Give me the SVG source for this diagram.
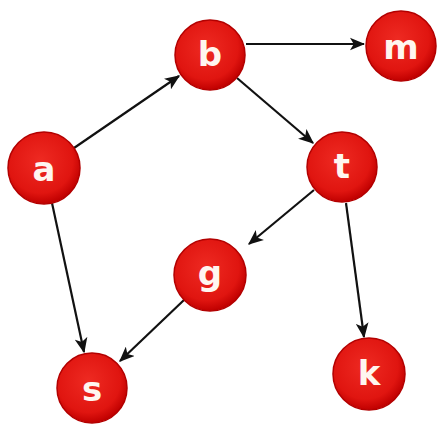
<svg xmlns="http://www.w3.org/2000/svg" width="439" height="426" viewBox="0 0 439 426">
<style>
.node circle{fill:url(#rg);stroke:#b30000;stroke-width:1.5}
.node text{fill:#fff6f0;font-family:"DejaVu Sans",sans-serif;font-weight:bold;font-size:34px;text-anchor:middle;dominant-baseline:central}
.edge{stroke:#111;stroke-width:2.2;fill:none;marker-end:url(#ah)}
</style>
<defs>
<radialGradient id="rg" cx="0.45" cy="0.4" r="0.6">
<stop offset="0" stop-color="#ee2a22"/>
<stop offset="0.75" stop-color="#e01510"/>
<stop offset="1" stop-color="#c00000"/>
</radialGradient>
<marker id="ah" viewBox="0 0 12 10" refX="11" refY="5" markerWidth="7" markerHeight="6" orient="auto" markerUnits="strokeWidth">
<path d="M0,0 L12,5 L0,10 L3,5 Z" fill="#111"/>
</marker>
</defs>
<g id="connectors">
<line class="edge" x1="74" y1="148" x2="179" y2="76"/>
<line class="edge" x1="246" y1="44" x2="364" y2="44"/>
<line class="edge" x1="237" y1="78" x2="313" y2="143"/>
<line class="edge" x1="314" y1="190" x2="249" y2="244"/>
<line class="edge" x1="346" y1="203" x2="364" y2="337"/>
<line class="edge" x1="52" y1="203" x2="84" y2="352"/>
<line class="edge" x1="184" y1="300" x2="120" y2="361"/>
</g>
<g id="a" class="node"><circle cx="44" cy="168" r="36"/><text x="44" y="169">a</text></g>
<g id="b" class="node"><circle cx="210" cy="55" r="35"/><text x="210" y="54">b</text></g>
<g id="m" class="node"><circle cx="401" cy="46" r="35"/><text x="401" y="47">m</text></g>
<g id="t" class="node"><circle cx="342" cy="167" r="35"/><text x="342" y="166">t</text></g>
<g id="g" class="node"><circle cx="210" cy="275" r="36"/><text x="210" y="273">g</text></g>
<g id="s" class="node"><circle cx="92" cy="388" r="35"/><text x="92" y="389">s</text></g>
<g id="k" class="node"><circle cx="369" cy="374" r="36"/><text x="369" y="373">k</text></g>
</svg>
